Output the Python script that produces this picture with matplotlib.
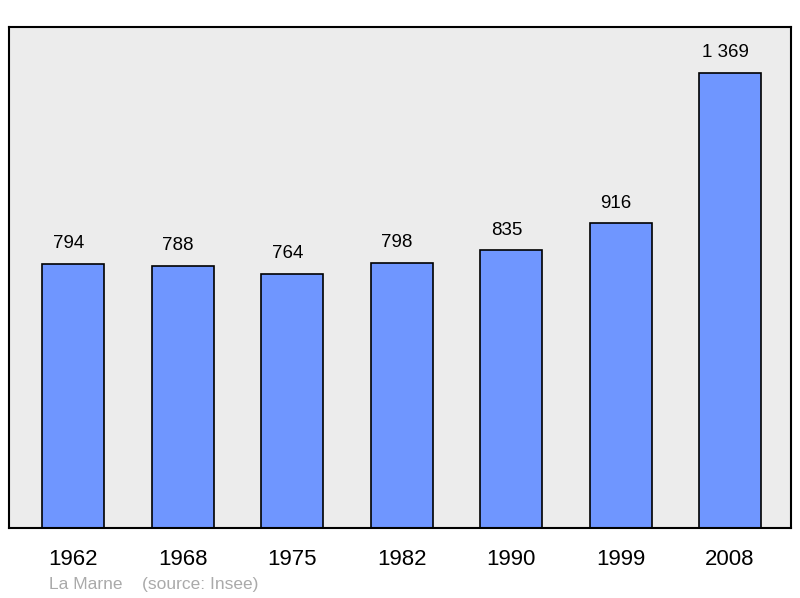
import matplotlib
matplotlib.use("Agg")
import matplotlib.pyplot as plt

years = ["1962", "1968", "1975", "1982", "1990", "1999", "2008"]
population = [794, 788, 764, 798, 835, 916, 1369]
labels = ["794", "788", "764", "798", "835", "916", "1 369"]

plt.rcParams['font.family'] = ['Liberation Sans', 'DejaVu Sans']
fig = plt.figure(figsize=(8, 5.98), dpi=100)
ax = fig.add_axes([9/800, 1-528/598, 782/800, 501/598])
ax.set_facecolor("#ececec")
x = range(len(years))
ax.bar(x, population, width=0.566, color="#6f96ff", edgecolor="black", linewidth=1.2, zorder=2)
for i, (v, t) in enumerate(zip(population, labels)):
    ax.text(i - 0.04, v + 35, t, ha="center", va="bottom", fontsize=13.5)
ax.set_xlim(-0.585, 6.557)
ax.set_ylim(0, 1507)
ax.set_xticks(list(x))
ax.set_xticklabels(years, fontsize=16)
ax.tick_params(axis="x", length=0, pad=15)
ax.set_yticks([])
for s in ax.spines.values():
    s.set_linewidth(1.5)
fig.text(49/800, 1-584/598, "La Marne    (source: Insee)", color="#aaaaaa", fontsize=12.5, va="center")
fig.savefig("out.png", dpi=100)
